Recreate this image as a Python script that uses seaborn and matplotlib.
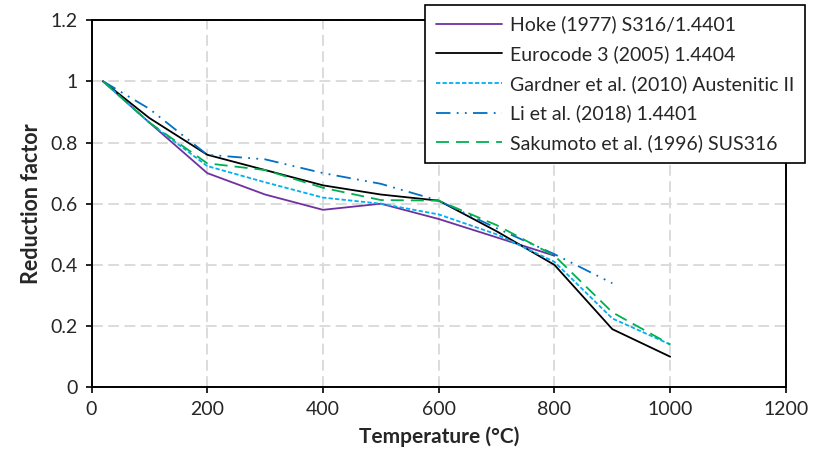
import matplotlib
matplotlib.use("Agg")
import matplotlib.pyplot as plt
import seaborn as sns
import numpy as np

# ---- data ----
hoke_T = [20, 100, 200, 300, 400, 500, 600, 700, 800]
hoke_k = [1.0, 0.865, 0.70, 0.63, 0.58, 0.60, 0.55, 0.49, 0.43]

ec3_T = [20, 100, 200, 300, 400, 500, 600, 700, 800, 900, 1000]
ec3_k = [1.0, 0.88, 0.76, 0.71, 0.66, 0.63, 0.61, 0.51, 0.40, 0.19, 0.10]

gard_T = [20, 100, 200, 300, 400, 500, 600, 700, 800, 900, 1000]
gard_k = [1.0, 0.865, 0.723, 0.67, 0.62, 0.60, 0.565, 0.50, 0.41, 0.225, 0.14]

li_T = [20, 100, 200, 300, 400, 500, 600, 700, 800, 900]
li_k = [1.0, 0.91, 0.76, 0.745, 0.70, 0.665, 0.61, 0.52, 0.435, 0.34]

saku_T = [20, 100, 200, 300, 400, 500, 600, 700, 800, 900, 1000]
saku_k = [1.0, 0.865, 0.732, 0.71, 0.652, 0.612, 0.61, 0.53, 0.43, 0.245, 0.14]

labels = ["Hoke (1977) S316/1.4401",
          "Eurocode 3 (2005) 1.4404",
          "Gardner et al. (2010) Austenitic II",
          "Li et al. (2018) 1.4401",
          "Sakumoto et al. (1996) SUS316"]

x_ticks = [0, 200, 400, 600, 800, 1000, 1200]
y_ticks = [0, 0.2, 0.4, 0.6, 0.8, 1.0, 1.2]
y_ticklabels = ["0", "0.2", "0.4", "0.6", "0.8", "1", "1.2"]

# ---- style ----
sns.set_style("white")
plt.rcParams['font.family'] = ['Lato', 'DejaVu Sans']
txt = "#262626"

fig = plt.figure(figsize=(8.17, 4.57), dpi=100)
ax = fig.add_axes([0.112, 0.1525, 0.85, 0.8035])

lw = 1.3
series = [
    (hoke_T, hoke_k, "#7030A0", "-"),
    (ec3_T, ec3_k, "#000000", "-"),
    (gard_T, gard_k, "#00B0F0", (0, (2.4, 1.2))),
    (li_T, li_k, "#0070C0", (0, (8, 3.5, 1, 3.5, 1, 3.5))),
    (saku_T, saku_k, "#00B050", (0, (7.2, 3.9))),
]
for (T, k, c, ls), lab in zip(series, labels):
    sns.lineplot(x=T, y=k, ax=ax, color=c, linestyle=ls, linewidth=lw,
                 label=lab, sort=False)

ax.set_xlim(0, 1200)
ax.set_ylim(0, 1.2)
ax.set_xticks(x_ticks)
ax.set_xticklabels([str(t) for t in x_ticks])
ax.set_yticks(y_ticks)
ax.set_yticklabels(y_ticklabels)

ax.grid(True, color="#D9D9D9", linestyle=(0, (6, 3)), linewidth=1.3)
ax.set_axisbelow(True)
for s in ax.spines.values():
    s.set_color("black")
    s.set_linewidth(1.4)

ax.tick_params(axis="both", direction="out", length=4, width=1.2,
               color="black", labelsize=14, labelcolor=txt, pad=6)
ax.tick_params(axis="y", left=True)
ax.tick_params(axis="x", bottom=True)

ax.set_xlabel("Temperature (°C)", fontsize=15, fontweight="bold",
              labelpad=6, color=txt)
ax.set_ylabel("Reduction factor", fontsize=15.5, fontweight="bold",
              labelpad=6, color=txt)

leg = ax.legend(loc="upper right", bbox_to_anchor=(0.985, 0.989),
                bbox_transform=fig.transFigure, borderaxespad=0,
                fontsize=14, frameon=True, fancybox=False,
                edgecolor="black", handlelength=3.4, handletextpad=0.4,
                labelspacing=0.6, borderpad=0.55)
leg.get_frame().set_linewidth(1.2)
leg.get_frame().set_alpha(1)
for t in leg.get_texts():
    t.set_color(txt)

fig.savefig("out.png", dpi=100)
